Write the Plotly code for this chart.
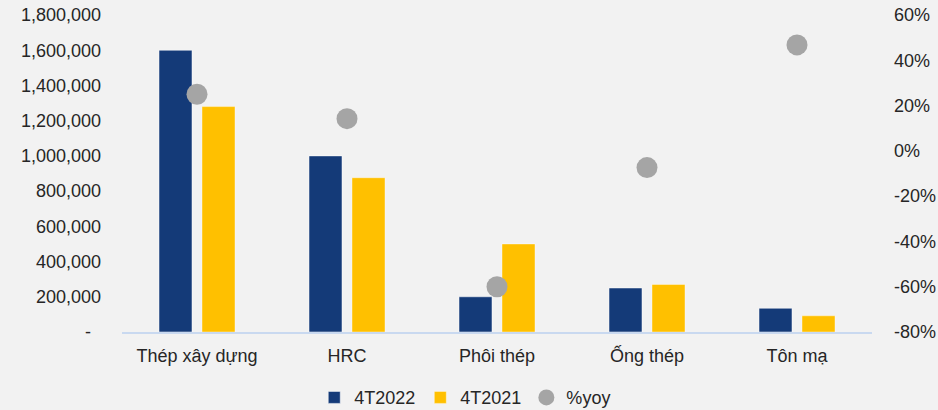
import plotly.graph_objects as go

categories = ["Thép xây dựng", "HRC", "Phôi thép", "Ống thép", "Tôn mạ"]
v2022 = [1600000, 1000000, 200000, 250000, 135000]
v2021 = [1280000, 876000, 500000, 270000, 92000]
yoy = [0.25, 0.142, -0.60, -0.074, 0.468]

left_ticks = [0, 200000, 400000, 600000, 800000, 1000000, 1200000, 1400000, 1600000, 1800000]
left_text = ["-\u2007"] + [f"{v:,}" for v in left_ticks[1:]]
right_ticks = [-0.8, -0.6, -0.4, -0.2, 0, 0.2, 0.4, 0.6]
right_text = [f"{round(v*100)}%" for v in right_ticks]

FONT = "Liberation Sans, Arial, sans-serif"

fig = go.Figure()
fig.add_trace(go.Bar(x=categories, y=v2022, name="4T2022",
                     marker=dict(color="#143a78", line=dict(color="rgba(255,255,255,0.5)", width=1))))
fig.add_trace(go.Bar(x=categories, y=v2021, name="4T2021",
                     marker=dict(color="#ffc000", line=dict(color="rgba(255,255,255,0.4)", width=1))))
fig.add_trace(go.Scatter(x=categories, y=yoy, name="%yoy", mode="markers", yaxis="y2",
                         marker=dict(color="#a5a5a5", size=21)))

fig.update_layout(
    width=938, height=410,
    paper_bgcolor="#f2f2f2", plot_bgcolor="#f2f2f2",
    margin=dict(l=122, r=66, t=15, b=78, autoexpand=False),
    font=dict(family=FONT, size=18, color="#262626"),
    barmode="group", bargap=0.4267, bargroupgap=0.2326,
    showlegend=True,
    legend=dict(orientation="h", x=0.496, xanchor="center", xref="container",
                y=0.03, yanchor="middle", yref="container",
                font=dict(size=18), bgcolor="rgba(0,0,0,0)", itemwidth=30, tracegroupgap=0),
    xaxis=dict(showgrid=False, showline=True, linecolor="#c9d9f0", linewidth=2,
               ticks="", tickfont=dict(size=18), ticklabelstandoff=6, zeroline=False),
    yaxis=dict(range=[0, 1800000], tickvals=left_ticks, ticktext=left_text,
               showgrid=False, zeroline=False, showline=False, ticks="",
               ticklabelstandoff=20, tickfont=dict(size=18)),
    yaxis2=dict(range=[-0.8, 0.6], tickvals=right_ticks, ticktext=right_text,
                overlaying="y", side="right", showgrid=False, zeroline=False,
                showline=False, ticks="", ticklabelstandoff=21, tickfont=dict(size=18)),
)

fig.write_html("out.html")
